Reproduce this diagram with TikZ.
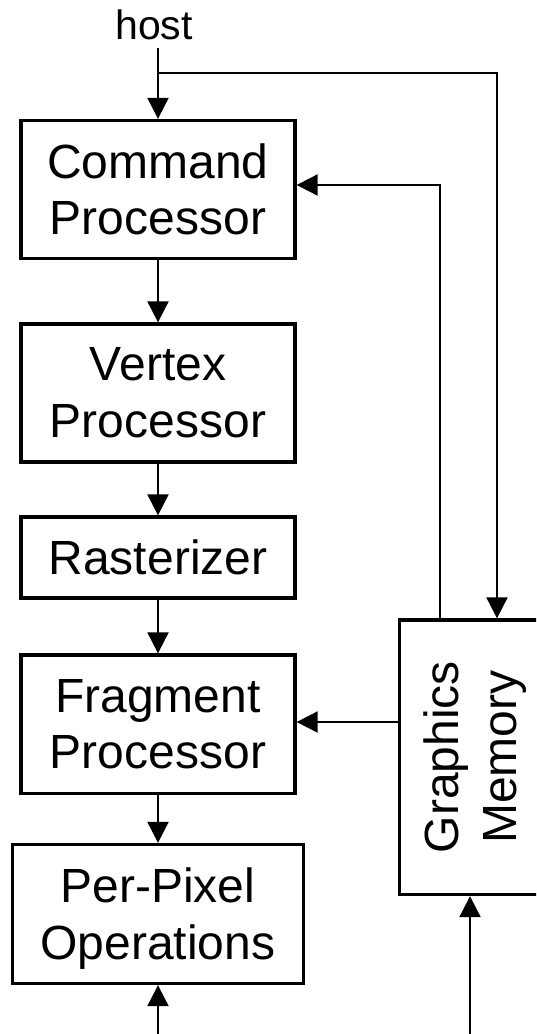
\documentclass[tikz,border=0pt]{standalone}
\usepackage{fontspec}
\setmainfont{Liberation Sans}
\usetikzlibrary{arrows.meta}
\begin{document}
\begin{tikzpicture}[x=1pt,y=-1pt,
  box/.style={draw=black, line width=3.3pt, inner sep=0pt, align=center,
    font=\fontsize{48}{56.6}\selectfont},
  arr/.style={draw=black, line width=2pt, -{Triangle[length=21pt,width=21pt]}},
  ln/.style={draw=black, line width=2pt}]
\useasboundingbox (0,0) rectangle (536,1034);
\clip (0,0) rectangle (536,1034);
\fill[white] (0,0) rectangle (536,1034);

\node[anchor=base, inner sep=0pt, font=\fontsize{41}{48}\selectfont] (host) at (154,39) {host};

\node[box, minimum width=274, minimum height=138] (cp) at (158,189.5) {Command\\Processor};
\node[box, minimum width=274, minimum height=138] (vp) at (158,393) {Vertex\\Processor};
\node[box, minimum width=274, minimum height=81] (ra) at (158,557.5) {Rasterizer};
\node[box, minimum width=274, minimum height=138.5] (fp) at (158,724.25) {Fragment\\Processor};
\node[box, minimum width=291, minimum height=139] (pp) at (158,914) {\rule{0pt}{44.5pt}Per-Pixel\\Operations};
\node[box, minimum width=151, minimum height=274.5] (gm) at (475,757.25) {};
\node[inner sep=0pt, rotate=90, align=center, font=\fontsize{48}{57.5}\selectfont] (gmtext) at (gm.center) {Graphics\\Memory};

% host input and branch to memory
\coordinate (hs) at (158,48);
\coordinate (br) at (158,72.5);
\coordinate (brr) at (497,72.5);
\draw[arr] (hs) -- (cp.north);
\draw[arr] (br) -- (brr) -- (brr |- gm.north);

% memory feedback to command processor
\coordinate (fb) at (440,185);
\draw[arr] (fb |- gm.north) -- (fb) -- (fb -| cp.east);

% pipeline
\draw[arr] (cp.south) -- (vp.north);
\draw[arr] (vp.south) -- (ra.north);
\draw[arr] (ra.south) -- (fp.north);
\draw[arr] (fp.south) -- (pp.north);

% memory to fragment processor
\coordinate (fm) at (399.5,722);
\draw[arr] (fm) -- (fm -| fp.east);

% inputs from below
\coordinate (pb) at (158,1034);
\draw[arr] (pb) -- (pp.south);
\coordinate (gb) at (470,1034);
\draw[arr] (gb) -- (gb |- gm.south);
\end{tikzpicture}
\end{document}
